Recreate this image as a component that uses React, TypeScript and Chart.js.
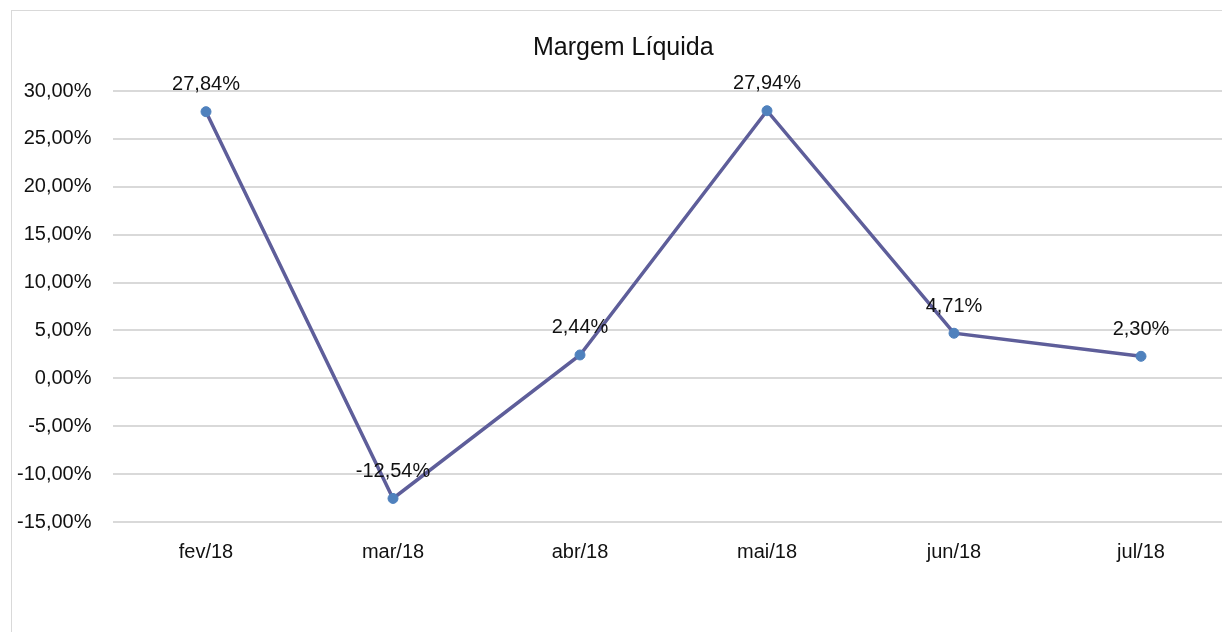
import React, { useEffect, useRef } from "react";
import { Chart, registerables } from "chart.js";

Chart.register(...registerables);

const categories = ["fev/18", "mar/18", "abr/18", "mai/18", "jun/18", "jul/18"];
const margemLiquida = [27.84, -12.54, 2.44, 27.94, 4.71, 2.3];
const yMin = -15;
const yMax = 30;
const yStep = 5;
const chartTitle = "Margem Líquida";

const FONT = "'Liberation Sans', Arial, sans-serif";

const fmt = (v: number) => v.toFixed(2).replace(".", ",") + "%";

const dataLabelPlugin = {
  id: "dataLabels",
  afterDatasetsDraw(chart: any) {
    const ctx = chart.ctx;
    chart.data.datasets.forEach((ds: any, di: number) => {
      const meta = chart.getDatasetMeta(di);
      meta.data.forEach((pt: any, i: number) => {
        const v = ds.data[i];
        ctx.save();
        ctx.font = `20px ${FONT}`;
        ctx.fillStyle = "#111111";
        ctx.textAlign = "center";
        ctx.textBaseline = "middle";
        ctx.fillText(fmt(v), pt.x, pt.y - 27);
        ctx.restore();
      });
    });
  },
};

export default function App() {
  const ref = useRef<HTMLCanvasElement | null>(null);

  useEffect(() => {
    if (!ref.current) return;
    const chart = new Chart(ref.current, {
      type: "line",
      data: {
        labels: categories,
        datasets: [
          {
            label: chartTitle,
            data: margemLiquida,
            borderColor: "#5E5E9A",
            borderWidth: 3.5,
            pointBackgroundColor: "#4F81BD",
            pointBorderColor: "#4F81BD",
            pointRadius: 5,
            pointBorderWidth: 1,
            tension: 0,
          },
        ],
      },
      options: {
        animation: false,
        responsive: true,
        maintainAspectRatio: false,
        layout: { padding: { left: 0, right: 17.5, top: 0, bottom: 49 } },
        plugins: {
          legend: { display: false },
          tooltip: { enabled: false },
          title: {
            display: true,
            text: chartTitle,
            color: "#111111",
            font: { family: FONT, size: 25, weight: "normal" },
            padding: { top: 22, bottom: 28 },
          },
        },
        scales: {
          x: {
            offset: true,
            grid: { display: false, drawTicks: false },
            border: { display: false },
            ticks: {
              color: "#111111",
              font: { family: FONT, size: 20 },
              padding: 18,
              maxRotation: 0,
            },
          },
          y: {
            min: yMin,
            max: yMax,
            grid: { color: "#d9d9d9", lineWidth: 2, drawTicks: false },
            border: { display: false },
            ticks: {
              stepSize: yStep,
              color: "#111111",
              font: { family: FONT, size: 20 },
              padding: 21,
              callback: (v: any) => fmt(Number(v)),
            },
            afterFit: (scale: any) => {
              scale.width = 100.5;
            },
          },
        },
      },
      plugins: [dataLabelPlugin],
    });
    return () => chart.destroy();
  }, []);

  return (
    <div
      style={{
        position: "fixed",
        left: 0,
        top: 0,
        width: "100vw",
        height: "100vh",
        overflow: "hidden",
        background: "#fff",
      }}
    >
      <div
        style={{
          position: "absolute",
          left: 11,
          top: 10,
          width: 1260,
          height: 700,
          border: "1px solid #d9d9d9",
          boxSizing: "border-box",
        }}
      >
        <div style={{ position: "absolute", left: 0, top: 0, width: 1240, height: 620 }}>
          <canvas ref={ref} />
        </div>
      </div>
    </div>
  );
}
